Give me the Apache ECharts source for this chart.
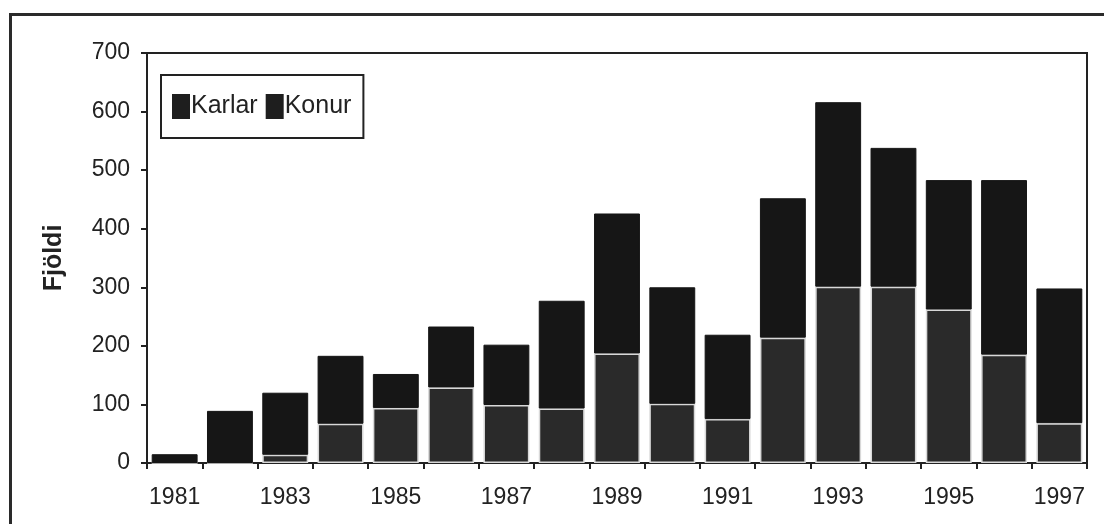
<!DOCTYPE html>
<html>
<head>
<meta charset="utf-8">
<script src="https://cdn.jsdelivr.net/npm/echarts@6/dist/echarts.min.js"></script>
<style>
  html, body { margin: 0; padding: 0; background: #fff; }
  .frame { position: absolute; left: 9px; top: 13px; width: 1200px; height: 600px; border-left: 3px solid #2a2a2a; border-top: 3px solid #2a2a2a; }
  #chart { position: absolute; left: 0; top: 0; width: 1104px; height: 524px; }
</style>
</head>
<body>
<div class="frame"></div>
<div id="chart"></div>
<script>
// ár
const years = ['1981','1982','1983','1984','1985','1986','1987','1988','1989','1990','1991','1992','1993','1994','1995','1996','1997']
// heildarfjöldi og konur, lesið af myndinni
const totals = [15, 89, 120, 183, 152, 233, 202, 277, 426, 300, 219, 452, 616, 538, 483, 483, 298]
const konur  = [0, 0, 14, 67, 94, 129, 99, 93, 187, 101, 75, 214, 301, 301, 262, 185, 68]
const karlar = totals.map((t, i) => t - konur[i])

const c = echarts.init(document.getElementById('chart'))
const font = 'Liberation Sans, Arial, sans-serif'
c.setOption({
  animation: false,
  textStyle: { fontFamily: font },
  grid: { left: 147, right: 17, top: 53, bottom: 61, show: true, borderColor: '#222', borderWidth: 2 },
  legend: {
    data: [
      { name: 'Karlar', itemStyle: { color: '#1e1e1e', borderWidth: 0 } },
      { name: 'Konur', itemStyle: { color: '#1e1e1e', borderWidth: 0 } }
    ],
    icon: 'rect',
    left: 161, top: 75,
    orient: 'horizontal',
    padding: [19, 12, 19, 11],
    itemGap: 8,
    itemWidth: 18, itemHeight: 25,
    borderColor: '#222', borderWidth: 2,
    textStyle: { fontSize: 25, color: '#222', fontFamily: font, padding: [0, 0, 0, -4] }
  },
  xAxis: {
    type: 'category',
    data: years,
    axisLine: { lineStyle: { color: '#222', width: 2 } },
    axisTick: { show: true, length: 6, interval: 0, lineStyle: { color: '#222', width: 2 } },
    axisLabel: { interval: 1, fontSize: 23, color: '#222', margin: 23 }
  },
  yAxis: {
    type: 'value',
    min: 0, max: 700, interval: 100,
    name: 'Fjöldi',
    nameLocation: 'middle',
    nameGap: 80,
    nameTextStyle: { fontSize: 25, fontWeight: 'bold', color: '#222' },
    axisLine: { show: true, lineStyle: { color: '#222', width: 2 } },
    axisTick: { show: true, length: 6, lineStyle: { color: '#222', width: 2 } },
    axisLabel: { fontSize: 23, color: '#222', margin: 17 },
    splitLine: { show: false }
  },
  series: [
    {
      name: 'Konur', type: 'bar', stack: 'a', data: konur,
      barCategoryGap: '17%',
      itemStyle: { color: '#2a2a2a', borderColor: '#d8d8d8', borderWidth: 1.5 }
    },
    {
      name: 'Karlar', type: 'bar', stack: 'a', data: karlar,
      itemStyle: { color: '#161616', borderColor: '#161616', borderWidth: 1 }
    }
  ]
})
</script>
</body>
</html>
